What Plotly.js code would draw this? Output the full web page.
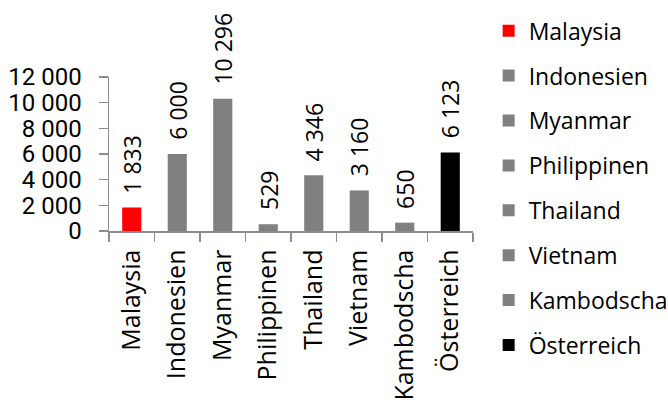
<!DOCTYPE html>
<html>
<head>
<meta charset="utf-8">
<script src="https://cdn.plot.ly/plotly-3.0.1.min.js"></script>
<style>html,body{margin:0;padding:0;background:#fff;}#chart{width:668px;height:406px;}</style>
</head>
<body>
<div id="chart"></div>
<script>
const categories = ["Malaysia", "Indonesien", "Myanmar", "Philippinen", "Thailand", "Vietnam", "Kambodscha", "Österreich"];
const values = [1833, 6000, 10296, 529, 4346, 3160, 650, 6123];
const colors = ["#FF0000", "#808080", "#808080", "#808080", "#808080", "#808080", "#808080", "#000000"];
const yTicks = [0, 2000, 4000, 6000, 8000, 10000, 12000];

const labelFont = "'Open Sans', 'Noto Sans', sans-serif";
const axisFont = "Roboto, 'DejaVu Sans Condensed', sans-serif";

function fmt(v) {
  return String(v).replace(/\B(?=(\d{3})+(?!\d))/g, " ");
}

const traces = categories.map((c, i) => ({
  type: "bar",
  x: [c],
  y: [values[i]],
  name: c,
  legendgroup: c,
  marker: {color: colors[i]},
  width: 0.42,
  hoverinfo: "x+y"
}));

const annotations = categories.map((c, i) => ({
  x: c, y: values[i], xref: "x", yref: "y",
  text: fmt(values[i]),
  textangle: -90,
  showarrow: false,
  xanchor: "center", yanchor: "bottom",
  yshift: 12,
  font: {family: labelFont, size: 23, color: "#000"}
}));

const layout = {
  width: 668, height: 406,
  margin: {l: 109, r: 195, t: 77, b: 175, autoexpand: false},
  paper_bgcolor: "#fff", plot_bgcolor: "#fff",
  separators: ", ",
  showlegend: true,
  barmode: "overlay",
  legend: {
    x: 1.043, xanchor: "left", y: 1.44, yanchor: "top",
    traceorder: "grouped", tracegroupgap: 12,
    maxheight: 400,
    font: {family: labelFont, size: 23, color: "#000"},
    itemclick: false
  },
  xaxis: {
    type: "category",
    categoryorder: "array", categoryarray: categories,
    tickangle: -90,
    tickson: "boundaries",
    ticks: "outside", ticklen: 9, tickcolor: "#8c8c8c", tickwidth: 1.5,
    showline: true, linecolor: "#8c8c8c", linewidth: 1.5,
    showgrid: false, zeroline: false,
    automargin: false,
    ticklabelstandoff: 7,
    tickfont: {family: labelFont, size: 25, color: "#000"}
  },
  yaxis: {
    range: [0, 12000],
    tickvals: yTicks,
    ticktext: yTicks.map(fmt),
    ticks: "outside", ticklen: 9, tickcolor: "#8c8c8c", tickwidth: 1.5,
    showline: true, linecolor: "#8c8c8c", linewidth: 1.5,
    showgrid: false, zeroline: false,
    automargin: false,
    ticklabelstandoff: 12,
    tickfont: {family: axisFont, size: 24, color: "#000"}
  },
  annotations: annotations
};

Plotly.newPlot("chart", traces, layout, {displayModeBar: false, staticPlot: true});
</script>
</body>
</html>
